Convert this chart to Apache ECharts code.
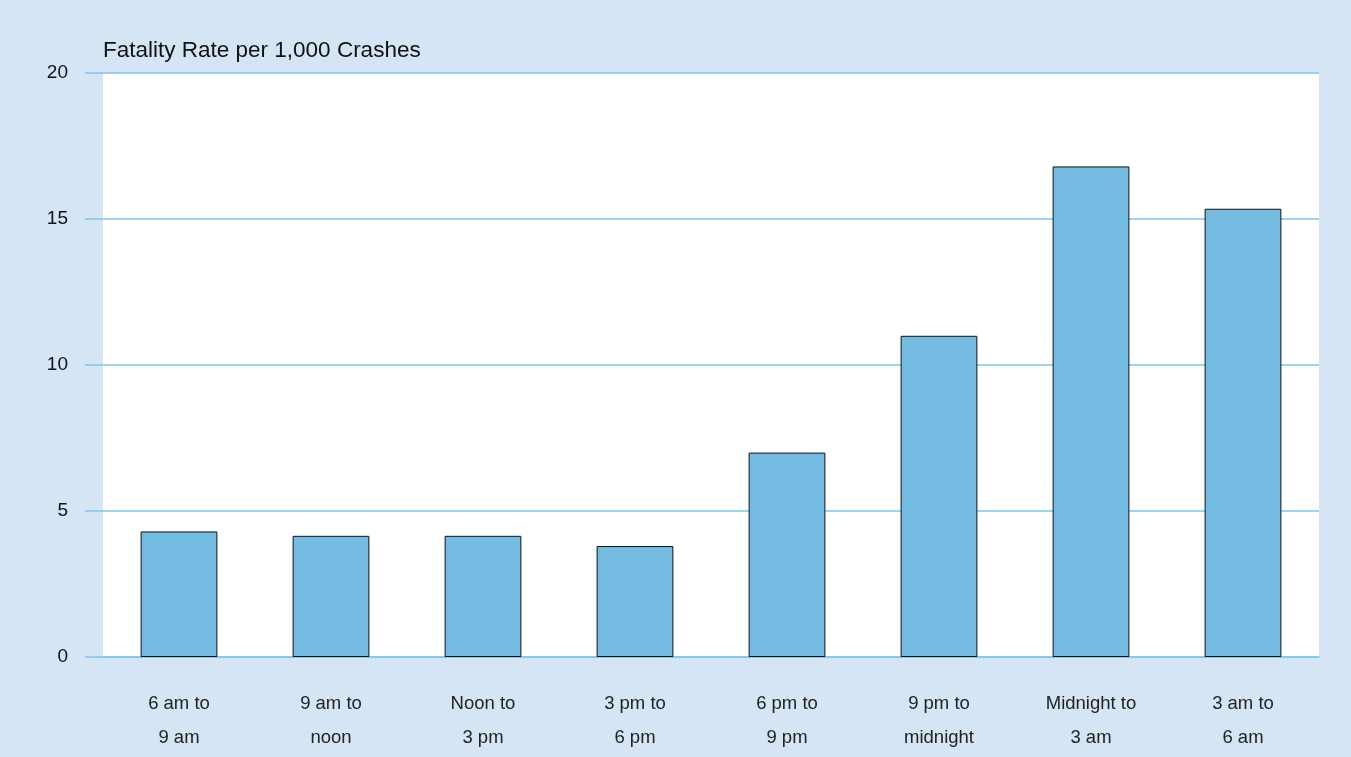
<!DOCTYPE html>
<html>
<head>
<meta charset="utf-8">
<script src="https://cdn.jsdelivr.net/npm/echarts@6/dist/echarts.min.js"></script>
<style>
  html, body { margin: 0; padding: 0; background: #d6e5f5; }
  #chart { width: 1351px; height: 757px; }
</style>
</head>
<body>
<div id="chart"></div>
<script>
// time-of-day periods and fatality rate per 1,000 crashes
var periods = ['6 am to\n9 am', '9 am to\nnoon', 'Noon to\n3 pm', '3 pm to\n6 pm',
  '6 pm to\n9 pm', '9 pm to\nmidnight', 'Midnight to\n3 am', '3 am to\n6 am']
var rates = [4.3, 4.15, 4.15, 3.8, 7.0, 11.0, 16.8, 15.35]
var yTicks = [0, 5, 10, 15, 20]

var chartDom = document.getElementById('chart')
var myChart = echarts.init(chartDom, null, { renderer: 'canvas', devicePixelRatio: 1 })
var lineColor = '#7cc6ec'
var font = 'Liberation Sans, Arial, sans-serif'
var option = {
  backgroundColor: '#d6e5f5',
  animation: false,
  textStyle: { fontFamily: font },
  title: {
    text: 'Fatality Rate per 1,000 Crashes',
    left: 98,
    top: 34,
    textStyle: { fontSize: 22.5, fontWeight: 'normal', color: '#111', fontFamily: font }
  },
  grid: {
    left: 103,
    right: 32,
    top: 73,
    bottom: 100,
    show: true,
    backgroundColor: '#ffffff',
    borderWidth: 0
  },
  xAxis: {
    type: 'category',
    data: periods,
    axisLine: { show: true, lineStyle: { color: lineColor, width: 1.5 } },
    axisTick: { show: false },
    splitLine: { show: false },
    axisLabel: {
      color: '#222',
      fontSize: 18.5,
      lineHeight: 34,
      margin: 30,
      interval: 0
    }
  },
  yAxis: {
    type: 'value',
    min: yTicks[0],
    max: yTicks[yTicks.length - 1],
    interval: 5,
    axisLine: { show: false },
    axisTick: { show: true, length: 18, lineStyle: { color: lineColor, width: 1.5 } },
    splitLine: { show: true, lineStyle: { color: lineColor, width: 1.5 } },
    axisLabel: { color: '#111', fontSize: 19, margin: 35 }
  },
  series: [
    {
      type: 'bar',
      data: rates,
      barWidth: '50.5%',
      itemStyle: {
        color: '#74bbe2',
        borderColor: '#111',
        borderWidth: 1
      }
    }
  ]
}

option && myChart.setOption(option)
</script>
</body>
</html>
